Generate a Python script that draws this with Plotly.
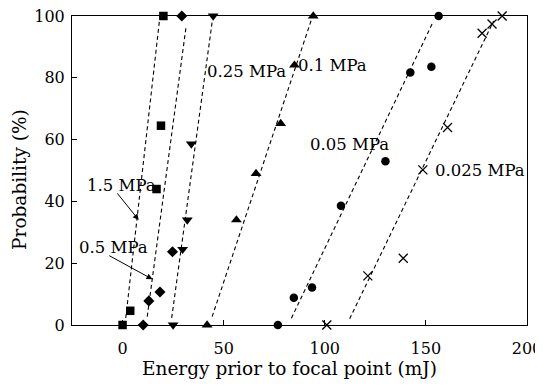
import plotly.graph_objects as go

# ---- data ----
x_15 = [0, 3.8, 16.8, 19, 20.2]
y_15 = [0, 4.6, 44, 64.5, 100]
line_15_x = [1.2, 18.5]
line_15_y = [0, 100]

x_05 = [10.2, 13, 18.5, 24.7, 29.3]
y_05 = [0, 7.8, 10.7, 23.7, 100]
line_05_x = [12.2, 31.5]
line_05_y = [2.7, 97]

x_025 = [25, 29.7, 32, 34, 44.8]
y_025 = [0, 24.5, 34, 58.6, 100]
line_025_x = [24.3, 44.3]
line_025_y = [2.3, 98]

x_01 = [41.8, 56.3, 66, 78.2, 85, 94.3]
y_01 = [0, 34, 49, 65.2, 84.1, 100]
line_01_x = [44.3, 93.5]
line_01_y = [2.7, 99]

x_005 = [76.8, 84.7, 93.7, 108, 130, 142.3, 152.7, 156.3]
y_005 = [0, 8.8, 12.1, 38.6, 53, 81.7, 83.6, 100]
line_005_x = [83.5, 153.5]
line_005_y = [2.2, 98]

x_0025 = [101, 121.3, 138.8, 148.5, 160.7, 177.8, 182.7, 187.7]
y_0025 = [0, 15.9, 21.6, 50.2, 63.9, 94.4, 97.4, 100]
line_0025_x = [112.3, 183.5]
line_0025_y = [2, 98.4]

x_ticks = [0, 50, 100, 150, 200]
y_ticks = [0, 20, 40, 60, 80, 100]

FONT = "DejaVu Serif"

fig = go.Figure()

lines = [(line_15_x, line_15_y), (line_05_x, line_05_y), (line_025_x, line_025_y),
         (line_01_x, line_01_y), (line_005_x, line_005_y), (line_0025_x, line_0025_y)]
for lx, ly in lines:
    fig.add_trace(go.Scatter(x=lx, y=ly, mode="lines",
                             line=dict(color="black", width=1.1, dash="4px,3px"),
                             showlegend=False, hoverinfo="skip", cliponaxis=False))

series = [
    (x_15, y_15, "square", 8.5),
    (x_05, y_05, "diamond", 8.5),
    (x_025, y_025, "triangle-down", 9.5),
    (x_01, y_01, "triangle-up", 9.5),
    (x_005, y_005, "circle", 8.5),
]
for xs, ys, sym, sz in series:
    fig.add_trace(go.Scatter(x=xs, y=ys, mode="markers",
                             marker=dict(symbol=sym, size=sz, color="black", line=dict(width=0)),
                             showlegend=False, cliponaxis=False))
fig.add_trace(go.Scatter(x=x_0025, y=y_0025, mode="markers",
                         marker=dict(symbol="x-thin", size=9, color="black",
                                     line=dict(width=1.3, color="black")),
                         showlegend=False, cliponaxis=False))

labels = [
    ("0.25 MPa", 42, 82),
    ("0.1 MPa", 86.8, 84),
    ("0.05 MPa", 92.5, 58.3),
    ("0.025 MPa", 154.3, 50),
    ("1.5 MPa", -17.5, 45.3),
    ("0.5 MPa", -21.5, 25.2),
]
for txt, lx, ly in labels:
    fig.add_annotation(x=lx, y=ly, text=txt, showarrow=False, xanchor="left",
                       yanchor="middle", xshift=-2,
                       font=dict(family=FONT, size=16.5, color="black"))

arrows = [((-3.2, 43.1), (8, 34)), ((-7.3, 22.7), (14.8, 14.8))]
for (tx, ty), (hx, hy) in arrows:
    fig.add_annotation(x=hx, y=hy, ax=tx, ay=ty, axref="x", ayref="y", text="",
                       showarrow=True, arrowhead=2, arrowsize=1.2, arrowwidth=1,
                       arrowcolor="black")

# axis titles
fig.add_annotation(xref="paper", yref="paper", x=0.477, y=-0.142,
                   text="Energy prior to focal point (mJ)", showarrow=False,
                   xanchor="center", yanchor="middle",
                   font=dict(family=FONT, size=18.5, color="black"))
fig.add_annotation(xref="paper", yref="paper", x=-0.114, y=0.47,
                   text="Probability (%)", showarrow=False, textangle=-90,
                   xanchor="center", yanchor="middle",
                   font=dict(family=FONT, size=18.5, color="black"))

# the page body has an 8px margin, so the figure is 8px smaller and offsets compensate
fig.update_layout(
    width=535, height=384,
    margin=dict(l=64, r=16, t=8, b=67),
    paper_bgcolor="white", plot_bgcolor="white",
    font=dict(family=FONT, size=16, color="black"),
)
fig.update_xaxes(range=[-25, 200], tickvals=x_ticks, ticks="inside", ticklen=5,
                 tickcolor="black", showline=True, linecolor="black", linewidth=1,
                 mirror=True, showgrid=False, zeroline=False, automargin=False,
                 ticklabelstandoff=9, ticklabeloverflow="allow",
                 tickfont=dict(family=FONT, size=16))
fig.update_yaxes(range=[0, 100], tickvals=y_ticks, ticks="inside", ticklen=5,
                 tickcolor="black", showline=True, linecolor="black", linewidth=1,
                 mirror=True, showgrid=False, zeroline=False, automargin=False,
                 ticklabelstandoff=3, ticklabeloverflow="allow",
                 tickfont=dict(family=FONT, size=16))

fig.write_html("out.html")
